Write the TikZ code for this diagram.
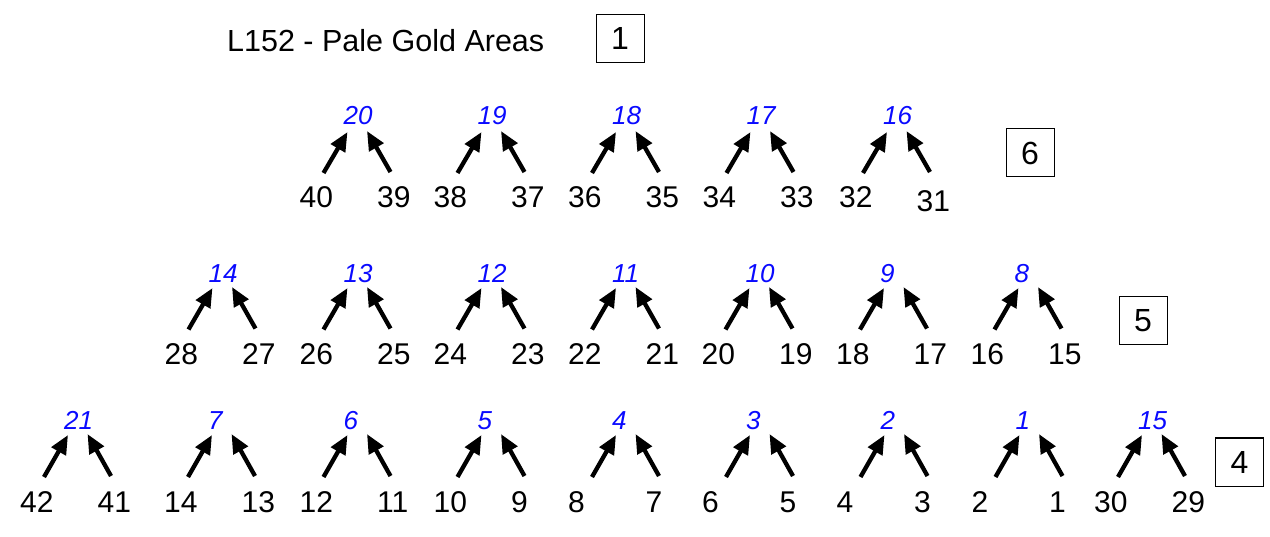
\documentclass[tikz,border=0pt]{standalone}
\usepackage{fontspec}
\setmainfont{Liberation Sans}
\usetikzlibrary{arrows.meta}
\definecolor{lblue}{RGB}{10,10,255}
\tikzset{
  blue label/.style={anchor=base west, inner sep=0pt, text=lblue, font=\fontsize{26}{26}\selectfont\itshape},
  num label/.style={anchor=base west, inner sep=0pt, font=\fontsize{30}{30}\selectfont},
  title label/.style={anchor=base west, inner sep=0pt, font=\fontsize{30.5}{30.5}\selectfont},
  link/.style={line width=4.3pt, -{Triangle[length=19pt,width=16pt]}},
  boxed/.style={draw, line width=1pt, minimum width=48pt, minimum height=48pt, inner sep=0pt, font=\fontsize{32}{32}\selectfont},
}
\begin{document}
\begin{tikzpicture}[x=1pt,y=-1pt]
\useasboundingbox (0,0) rectangle (1270,537);
\fill[white] (0,0) rectangle (1270,537);

\node[title label] (title) at (227,52) {L152 - Pale Gold Areas};
\node[boxed] (box1) at (620,38.5) {1};
\node[boxed] (box6) at (1030,153) {6};
\node[boxed] (box5) at (1143,320.5) {5};
\node[boxed] (box4) at (1239.5,462) {4};

% row 1
\foreach \c/\b/\l/\r/\n/\dy in {357.5/20/40/39/1/0, 491.5/19/38/37/2/0, 626/18/36/35/3/0, 760.5/17/34/33/4/0, 897/16/32/31/5/4}{
  \node[blue label] (r1b\n) at (\c-14,125) {\b};
  \node[num label] (r1l\n) at (\c-58,208) {\l};
  \node[num label] (r1r\n) at (\c+19.5,208+\dy) {\r};
  \coordinate (r1lt\n) at (\c-34,173);
  \coordinate (r1lh\n) at (\c-10,132);
  \coordinate (r1rt\n) at (\c+33,172);
  \coordinate (r1rh\n) at (\c+9.5,131);
  \draw[link] (r1lt\n) -- (r1lh\n);
  \draw[link] (r1rt\n) -- (r1rh\n);
}

% row 2
\foreach \c/\b/\l/\r/\n in {222.5/14/28/27/1, 357.5/13/26/25/2, 491.5/12/24/23/3, 626/11/22/21/4, 759.5/10/20/19/5, 894/9/18/17/6, 1028.5/8/16/15/7}{
  \node[blue label] (r2b\n) at (\c-14,283) {\b};
  \node[num label] (r2l\n) at (\c-58,365) {\l};
  \node[num label] (r2r\n) at (\c+19.5,365) {\r};
  \coordinate (r2lt\n) at (\c-34,329.5);
  \coordinate (r2lh\n) at (\c-10,288);
  \coordinate (r2rt\n) at (\c+33,328.5);
  \coordinate (r2rh\n) at (\c+9.5,287);
  \draw[link] (r2lt\n) -- (r2lh\n);
  \draw[link] (r2rt\n) -- (r2rh\n);
}

% row 3
\foreach \c/\b/\l/\r/\n in {78/21/42/41/1, 222/7/14/13/2, 357.5/6/12/11/3, 491.5/5/10/9/4, 626/4/8/7/5, 760/3/6/5/6, 894.5/2/4/3/7, 1029.5/1/2/1/8, 1152/15/30/29/9}{
  \node[blue label] (r3b\n) at (\c-14,430) {\b};
  \node[num label] (r3l\n) at (\c-58,512) {\l};
  \node[num label] (r3r\n) at (\c+19.5,512) {\r};
  \coordinate (r3lt\n) at (\c-34,477);
  \coordinate (r3lh\n) at (\c-10,435);
  \coordinate (r3rt\n) at (\c+33,476);
  \coordinate (r3rh\n) at (\c+9.5,434);
  \draw[link] (r3lt\n) -- (r3lh\n);
  \draw[link] (r3rt\n) -- (r3rh\n);
}
\end{tikzpicture}
\end{document}
